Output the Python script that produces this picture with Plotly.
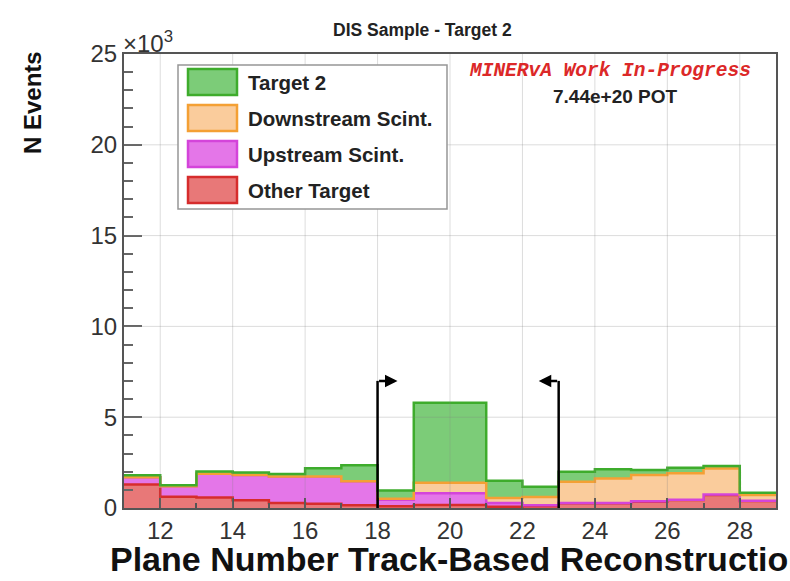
import numpy as np
import plotly.graph_objects as go

# ---------------- data (thousands of events per plane bin) ----------------
bin_edges = list(range(11, 30))  # plane-number bin edges 11..29
other_target = [1.30, 0.62, 0.58, 0.42, 0.28, 0.24, 0.15, 0.10, 0.17, 0.17, 0.07, 0.10, 0.26, 0.26, 0.35, 0.44, 0.72, 0.38]
upstream_scint = [0.40, 0.58, 1.30, 1.40, 1.46, 1.50, 1.32, 0.36, 0.64, 0.64, 0.20, 0.05, 0.02, 0.02, 0.02, 0.02, 0.02, 0.02]
downstream_scint = [0.00, 0.00, 0.00, 0.00, 0.00, 0.00, 0.00, 0.05, 0.58, 0.58, 0.28, 0.45, 1.17, 1.35, 1.45, 1.45, 1.44, 0.32]
target2 = [0.10, 0.05, 0.13, 0.13, 0.13, 0.45, 0.88, 0.45, 4.40, 4.40, 0.95, 0.57, 0.55, 0.50, 0.27, 0.31, 0.13, 0.12]

series_names = ["Other Target", "Upstream Scint.", "Downstream Scint.", "Target 2"]
legend_order = ["Target 2", "Downstream Scint.", "Upstream Scint.", "Other Target"]

x_ticks = [12, 14, 16, 18, 20, 22, 24, 26, 28]
y_ticks = [0, 5000, 10000, 15000, 20000, 25000]
y_tick_text = ["0", "5", "10", "15", "20", "25"]

cut_low, cut_high = 18, 23
cut_arrow_height = 7000

# ---------------- styles ----------------
fill_colors = {
    "Other Target": "rgb(232,120,120)",
    "Upstream Scint.": "rgb(228,118,232)",
    "Downstream Scint.": "rgb(250,204,156)",
    "Target 2": "rgb(124,204,120)",
}
line_colors = {
    "Other Target": "rgb(214,44,44)",
    "Upstream Scint.": "rgb(212,68,218)",
    "Downstream Scint.": "rgb(244,160,52)",
    "Target 2": "rgb(62,172,44)",
}
FONT = "Liberation Sans, Arial, Helvetica, sans-serif"

W, H = 790, 581
L, R, T, B = 124, 776, 54, 508  # plot-area pixel box


def px(x):
    return (x - L) / (R - L)


def py(y):
    return (B - y) / (B - T)


fig = go.Figure()

components = {
    "Other Target": other_target,
    "Upstream Scint.": upstream_scint,
    "Downstream Scint.": downstream_scint,
    "Target 2": target2,
}
cum = np.zeros(len(other_target))
for i, name in enumerate(series_names):
    cum = cum + np.array(components[name]) * 1000.0
    yv = list(cum) + [cum[-1]]
    fig.add_trace(go.Scatter(
        x=bin_edges, y=yv, mode="lines", line_shape="hv",
        line=dict(color=line_colors[name], width=2.5),
        fill="tozeroy" if i == 0 else "tonexty",
        fillcolor=fill_colors[name], name=name, showlegend=False,
        hoverinfo="skip",
    ))

# gridlines drawn over the histograms (faint, solid)
for xv in x_ticks:
    fig.add_shape(type="line", xref="x", yref="paper", x0=xv, x1=xv, y0=0, y1=1,
                  line=dict(color="rgba(130,130,130,0.28)", width=1), layer="above")
for yv in y_ticks[1:-1]:
    fig.add_shape(type="line", xref="paper", yref="y", x0=0, x1=1, y0=yv, y1=yv,
                  line=dict(color="rgba(130,130,130,0.28)", width=1), layer="above")

# cut lines with arrows
for cut, direction in [(cut_low, 1), (cut_high, -1)]:
    fig.add_shape(type="line", xref="x", yref="y", x0=cut, x1=cut, y0=0, y1=cut_arrow_height,
                  line=dict(color="black", width=2.5), layer="above")
    fig.add_annotation(x=cut + 0.55 * direction, y=cut_arrow_height, ax=cut, ay=cut_arrow_height,
                       xref="x", yref="y", axref="x", ayref="y", text="", showarrow=True,
                       arrowhead=2, arrowsize=1.0, arrowwidth=2.5, arrowcolor="black")

# legend (ROOT TLegend style)
fig.add_shape(type="rect", xref="paper", yref="paper", x0=px(178), x1=px(447), y0=py(209), y1=py(65),
              line=dict(color="rgb(150,150,150)", width=1.5), fillcolor="white", layer="above")
row_y = [82, 118, 154, 190]
for name, ry in zip(legend_order, row_y):
    fig.add_shape(type="rect", xref="paper", yref="paper", x0=px(188), x1=px(237),
                  y0=py(ry + 13), y1=py(ry - 13),
                  line=dict(color=line_colors[name], width=2.5), fillcolor=fill_colors[name], layer="above")
    fig.add_annotation(x=px(246), y=py(ry), xref="paper", yref="paper", text="<b>" + name + "</b>",
                       showarrow=False, xanchor="left", yanchor="middle",
                       font=dict(family=FONT, size=20.5, color="#222"))

# texts
fig.add_annotation(x=px(422), y=py(30), xref="paper", yref="paper", text="<b>DIS Sample - Target 2</b>",
                   showarrow=False, xanchor="center", yanchor="middle", font=dict(family=FONT, size=17.5, color="#222"))
fig.add_annotation(x=px(121), y=py(42), xref="paper", yref="paper", text="×10<sup>3</sup>",
                   showarrow=False, xanchor="left", yanchor="middle", font=dict(family=FONT, size=24, color="#333"))
fig.add_annotation(x=px(610), y=py(71), xref="paper", yref="paper", text="<b><i>MINERvA Work In-Progress</i></b>",
                   showarrow=False, xanchor="center", yanchor="middle",
                   font=dict(family="Liberation Mono, Courier New, monospace", size=19.5, color="rgb(220,40,40)"))
fig.add_annotation(x=px(615), y=py(96), xref="paper", yref="paper", text="<b>7.44e+20 POT</b>",
                   showarrow=False, xanchor="center", yanchor="middle", font=dict(family=FONT, size=19, color="#222"))
fig.add_annotation(x=px(33), y=py(103), xref="paper", yref="paper", text="<b>N Events</b>", textangle=-90,
                   showarrow=False, xanchor="center", yanchor="middle", font=dict(family=FONT, size=24, color="#111"))
fig.add_annotation(x=px(108), y=py(559), xref="paper", yref="paper",
                   text="<b>Plane Number Track-Based Reconstruction</b>",
                   showarrow=False, xanchor="left", yanchor="middle", font=dict(family=FONT, size=34, color="#111"))

fig.update_layout(
    width=W, height=H,
    margin=dict(l=L, r=W - R, t=T, b=H - B, pad=0),
    paper_bgcolor="white", plot_bgcolor="white",
    showlegend=False,
    xaxis=dict(range=[11, 29], tickvals=x_ticks, ticks="inside", ticklen=10, tickwidth=1.5, tickcolor="#555",
               minor=dict(dtick=1, tick0=11, ticks="inside", ticklen=5, tickcolor="#555", showgrid=False),
               showline=True, linecolor="#555", linewidth=2, mirror=True,
               showgrid=False, zeroline=False,
               tickfont=dict(family=FONT, size=24, color="#333"), ticklabelstandoff=0,
               layer="above traces"),
    yaxis=dict(range=[0, 25000], tickvals=y_ticks, ticktext=y_tick_text, ticks="inside", ticklen=18,
               tickwidth=1.5, tickcolor="#666",
               minor=dict(dtick=1000, ticks="inside", ticklen=9, tickcolor="#666", showgrid=False),
               showline=True, linecolor="#555", linewidth=2, mirror=True,
               showgrid=False, zeroline=False,
               tickfont=dict(family=FONT, size=24, color="#333"), ticklabelstandoff=0,
               layer="above traces"),
)

fig.write_html("out.html")
